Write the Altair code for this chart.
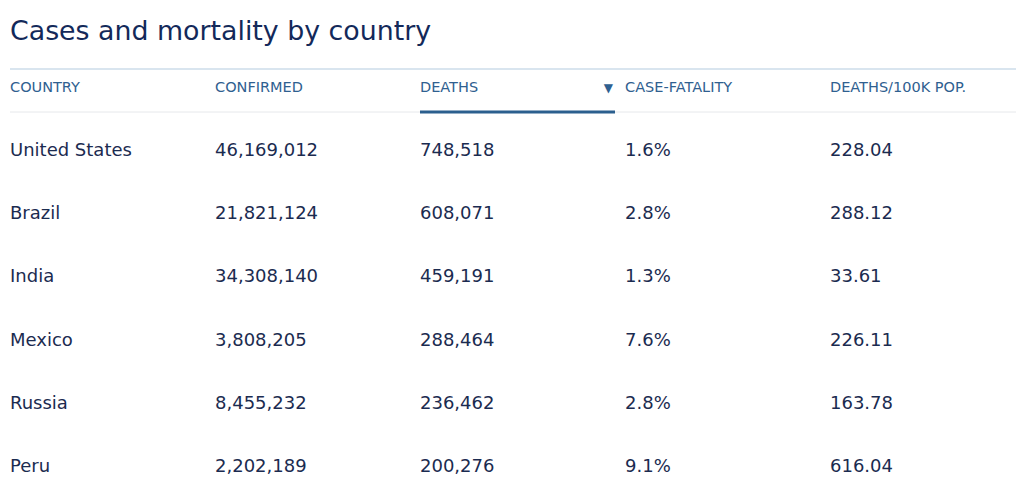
import altair as alt
import pandas as pd

countries = ["United States", "Brazil", "India", "Mexico", "Russia", "Peru"]
confirmed = [46169012, 21821124, 34308140, 3808205, 8455232, 2202189]
deaths = [748518, 608071, 459191, 288464, 236462, 200276]
case_fatality = [0.016, 0.028, 0.013, 0.076, 0.028, 0.091]
deaths_per_100k = [228.04, 288.12, 33.61, 226.11, 163.78, 616.04]
headers = ["COUNTRY", "CONFIRMED", "DEATHS", "CASE-FATALITY", "DEATHS/100K POP."]

df = pd.DataFrame({
    "row": list(range(len(countries))),
    "country": countries,
    "confirmed": confirmed,
    "deaths": deaths,
    "cfr": case_fatality,
    "d100k": deaths_per_100k,
})
hdf = pd.DataFrame({"col": list(range(len(headers))), "label": headers, "row": [-1] * len(headers)})

W, H = 1008, 425
xs = alt.Scale(domain=[-0.00976, 4.9073], range=[0, W])
ys = alt.Scale(domain=[-1.377, 5.348], range=[0, H])

BODY = "#1b2b50"
HEAD = "#2f6090"
FONT = "DejaVu Sans"

body_layers = []
for i, (field, fmt) in enumerate([("country", None), ("confirmed", ","), ("deaths", ","), ("cfr", ".1%"), ("d100k", ".2f")]):
    txt = alt.Text(f"{field}:N") if fmt is None else alt.Text(f"{field}:Q", format=fmt)
    body_layers.append(
        alt.Chart(df).mark_text(align="left", baseline="middle", font=FONT, fontSize=18, color=BODY).encode(
            x=alt.X(datum=i, scale=xs, axis=None),
            y=alt.Y("row:Q", scale=ys, axis=None),
            text=txt,
        )
    )

header = alt.Chart(hdf).mark_text(align="left", baseline="middle", font=FONT, fontSize=14.5, color=HEAD).encode(
    x=alt.X("col:Q", scale=xs, axis=None),
    y=alt.Y("row:Q", scale=ys, axis=None),
    text="label:N",
)

arrow = alt.Chart(pd.DataFrame({"col": [3], "row": [-1], "s": ["▼"]})).mark_text(
    align="right", baseline="middle", font=FONT, fontSize=12, color=HEAD, dx=-12
).encode(
    x=alt.X("col:Q", scale=xs, axis=None),
    y=alt.Y("row:Q", scale=ys, axis=None),
    text="s:N",
)

base = alt.Chart(pd.DataFrame({"a": [0]}))
top_line = base.mark_rule(color="#b3cbe0", strokeWidth=1.2).encode(
    x=alt.value(2), x2=alt.value(W), y=alt.value(5)
)
head_line = base.mark_rule(color="#e6e8eb", strokeWidth=1).encode(
    x=alt.value(2), x2=alt.value(W), y=alt.value(48)
)
underline = alt.Chart(pd.DataFrame({"c1": [2], "c2": [3]})).mark_rule(
    color="#2b5f8e", strokeWidth=3, x2Offset=-10
).encode(
    x=alt.X("c1:Q", scale=xs, axis=None),
    x2="c2:Q",
    y=alt.value(48),
)

chart = alt.layer(top_line, head_line, underline, header, arrow, *body_layers).properties(
    width=W,
    height=H,
    padding={"top": 56, "left": 0, "right": 0, "bottom": 0},
    autosize=alt.AutoSizeParams(type="none"),
    title=alt.Title("Cases and mortality by country", anchor="start", font=FONT, fontSize=26.8,
                    fontWeight="normal", color="#13295a", offset=18, dx=2),
).configure_view(stroke=None)

chart.save("out.html", embed_options={"renderer": "svg", "actions": False})
